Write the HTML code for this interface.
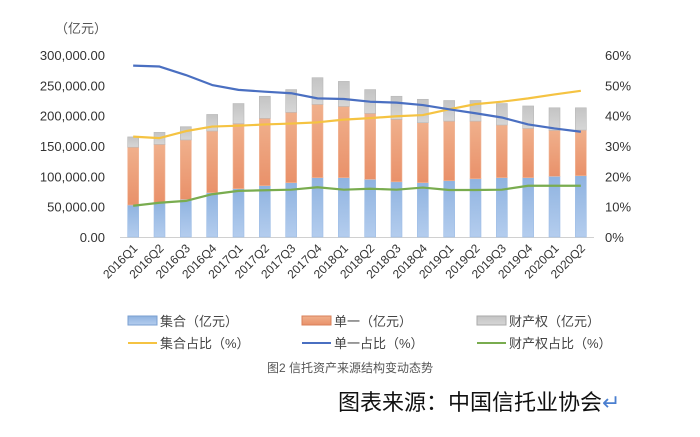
<!DOCTYPE html>
<html><head><meta charset="utf-8"><style>
body{margin:0;background:#fff;width:700px;height:432px;overflow:hidden;font-family:"Liberation Sans","Noto Sans CJK SC",sans-serif;}
svg text{font-family:"Liberation Sans","Noto Sans CJK SC",sans-serif;}
</style></head><body>
<svg id="c" width="700" height="432" xmlns="http://www.w3.org/2000/svg">
<defs>
<linearGradient id="gb" x1="0" y1="0" x2="0" y2="1"><stop offset="0" stop-color="#8fb3e0"/><stop offset="1" stop-color="#b4cdee"/></linearGradient>
<linearGradient id="go" x1="0" y1="0" x2="0" y2="1"><stop offset="0" stop-color="#f0b08c"/><stop offset="1" stop-color="#e9916a"/></linearGradient>
<linearGradient id="gg" x1="0" y1="0" x2="0" y2="1"><stop offset="0" stop-color="#c4c4c4"/><stop offset="1" stop-color="#d6d6d6"/></linearGradient>
</defs>
<text x="55" y="33" font-size="13" fill="#555">（亿元）</text>
<line x1="120" y1="237.5" x2="594" y2="237.5" stroke="#d0d0d0"/>
<g id="marks"></g>
<g font-size="13" fill="#444">
<rect x="128" y="316" width="29" height="9" fill="url(#gb)" stroke="#7a9fd0"/>
<text x="160" y="326">集合（亿元）</text>
<rect x="302" y="316" width="29" height="9" fill="url(#go)" stroke="#d9805a"/>
<text x="334" y="326">单一（亿元）</text>
<rect x="477" y="316" width="29" height="9" fill="url(#gg)" stroke="#aaa"/>
<text x="509" y="326">财产权（亿元）</text>
<line x1="128" y1="343" x2="157" y2="343" stroke="#f5c342" stroke-width="2"/>
<text x="160" y="348">集合占比（%）</text>
<line x1="302" y1="343" x2="331" y2="343" stroke="#4a6fc1" stroke-width="2"/>
<text x="334" y="348">单一占比（%）</text>
<line x1="477" y1="343" x2="506" y2="343" stroke="#79ac4f" stroke-width="2"/>
<text x="509" y="348">财产权占比（%）</text>
</g>
<text x="350" y="372" text-anchor="middle" font-size="12" fill="#555">图2  信托资产来源结构变动态势</text>
<text x="338" y="410" font-size="22" fill="#111">图表来源：中国信托业协会<tspan fill="#4a7fd0">↵</tspan></text>
</svg>
<script>
const categories=["2016Q1","2016Q2","2016Q3","2016Q4","2017Q1","2017Q2","2017Q3","2017Q4","2018Q1","2018Q2","2018Q3","2018Q4","2019Q1","2019Q2","2019Q3","2019Q4","2020Q1","2020Q2"];
const collective=[52700,56600,62000,73000,79600,84600,89500,97800,97800,95000,91000,89500,92800,96000,97800,97800,100000,101000];
const single=[95300,96100,98000,101700,107400,111000,116000,120800,117500,108800,103000,98900,98200,95000,86800,81200,75800,75300];
const property=[17000,19800,21800,27300,33000,36400,37500,44000,41200,39200,38000,38600,34000,34000,35400,37000,37200,36700];
const collectivePct=[33.1,32.6,34.9,36.4,36.7,37.1,37.4,37.8,38.7,39.2,39.8,40.2,42.1,43.8,44.6,45.7,47.0,48.2];
const singlePct=[56.5,56.2,53.4,50.1,48.5,47.9,47.4,45.7,45.5,44.6,44.3,43.5,42.1,40.8,39.4,37.1,35.8,34.7];
const propertyPct=[10.3,11.3,11.9,14.1,15.2,15.4,15.6,16.4,15.6,15.9,15.6,16.3,15.5,15.5,15.6,16.9,16.9,16.9];
const leftTicks=[0,50000,100000,150000,200000,250000,300000];
const rightTicks=[0,10,20,30,40,50,60];

const NS="http://www.w3.org/2000/svg";
const svg=document.getElementById('c'), g=document.getElementById('marks');
const X0=120,X1=594,Y0=237,Y1=55;
const step=(X1-X0)/categories.length;
const xc=i=>X0+step*(i+0.5);
const yL=v=>Y0-(v/300000)*(Y0-Y1);
const yR=v=>Y0-(v/60)*(Y0-Y1);
function mk(t,a){const e=document.createElementNS(NS,t);for(const k in a)e.setAttribute(k,a[k]);return e;}
leftTicks.forEach(v=>{
  const t=mk('text',{x:105,y:yL(v)+5,'text-anchor':'end','font-size':13,fill:'#333'});
  t.textContent=v.toLocaleString('en-US',{minimumFractionDigits:2});
  
  
  svg.appendChild(t);
});
rightTicks.forEach(v=>{
  const t=mk('text',{x:605,y:yR(v)+5,'font-size':13,fill:'#333'});
  t.textContent=v+'%';
  
  
  svg.appendChild(t);
});
categories.forEach((c,i)=>{
  const x=xc(i),bw=11;
  const y1=yL(collective[i]),y2=yL(collective[i]+single[i]),y3=yL(collective[i]+single[i]+property[i]);
  const b=mk('rect',{x:x-bw/2,y:y1,width:bw,height:Y0-y1,fill:'url(#gb)',stroke:'#9dbde6','stroke-width':0.6});
  
  
  g.appendChild(b);
  const o=mk('rect',{x:x-bw/2,y:y2,width:bw,height:y1-y2,fill:'url(#go)',stroke:'#f2b89a','stroke-width':0.6});
  
  
  g.appendChild(o);
  const p=mk('rect',{x:x-bw/2,y:y3,width:bw,height:y2-y3,fill:'url(#gg)',stroke:'#b8b8b8','stroke-width':0.6});
  
  
  g.appendChild(p);
  const t=mk('text',{x:x+5,y:249,'text-anchor':'end','font-size':12,fill:'#333',transform:`rotate(-45 ${x+5} 249)`});
  t.textContent=c;
  
  
  svg.appendChild(t);
});
[[collectivePct,'#f5c342','line-collective-pct'],[singlePct,'#4a6fc1','line-single-pct'],[propertyPct,'#79ac4f','line-property-pct']].forEach(([arr,col,name])=>{
  const l=mk('polyline',{points:arr.map((v,i)=>xc(i)+','+yR(v)).join(' '),fill:'none',stroke:col,'stroke-width':2.2,'stroke-linejoin':'round'});
  
  
  g.appendChild(l);
});
</script>
</body></html>
